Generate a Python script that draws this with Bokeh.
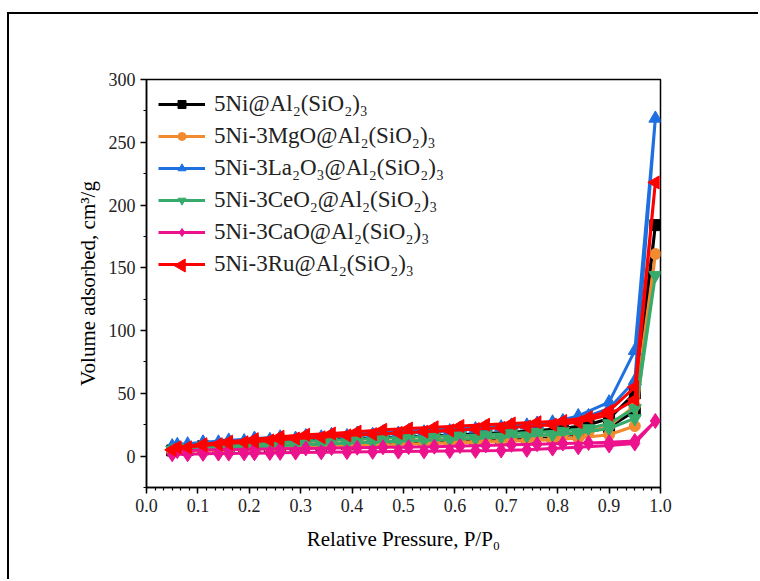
import math
from bokeh.plotting import figure
from bokeh.models import Range1d, FixedTicker, CustomJSTickFormatter
from bokeh.embed import file_html
from bokeh.resources import INLINE

# Relative pressure grids (adsorption up, desorption down)
P_ads = [0.05, 0.08, 0.11, 0.14, 0.16, 0.19, 0.21, 0.24, 0.26, 0.29, 0.34, 0.39,
         0.44, 0.49, 0.54, 0.59, 0.64, 0.69, 0.74, 0.79, 0.84, 0.90, 0.95, 0.99]
P_des = [0.95, 0.90, 0.86, 0.81, 0.76, 0.71, 0.66, 0.61, 0.56, 0.51, 0.46, 0.41,
         0.36, 0.31, 0.26, 0.21, 0.16, 0.11, 0.06]

labels = ["5Ni@Al₂(SiO₂)₃", "5Ni-3MgO@Al₂(SiO₂)₃", "5Ni-3La₂O₃@Al₂(SiO₂)₃",
          "5Ni-3CeO₂@Al₂(SiO₂)₃", "5Ni-3CaO@Al₂(SiO₂)₃", "5Ni-3Ru@Al₂(SiO₂)₃"]

ni_ads = [4.5, 5, 5.5, 6, 6.3, 6.7, 7, 7.5, 7.8, 8.3, 9, 9.7, 10.4, 11, 11.7, 12.4,
          13, 13.8, 14.6, 15.6, 17.5, 23, 36, 184]
ni_des = [50, 30, 25, 22, 20.5, 19, 18, 17, 16.2, 15.4, 14.6, 13.8, 13, 12, 11, 10, 9, 7.8, 6]

mgo_ads = [3.5, 4, 4.5, 5, 5.2, 5.5, 5.8, 6.2, 6.5, 6.9, 7.5, 8, 8.6, 9.2, 9.8, 10.4,
           11, 11.6, 12.3, 13, 14.5, 17, 24, 161]
mgo_des = [40, 24, 19, 17, 16, 15, 14.2, 13.5, 12.8, 12.2, 11.5, 10.8, 10.2, 9.5, 8.8, 8, 7.2, 6.3, 5]

la_ads = [8, 9.5, 10.5, 11, 11.5, 12, 12.5, 13, 13.5, 14, 15, 16, 17, 18, 19, 20,
          21.5, 23, 24.5, 27, 32, 43, 84, 269]
la_des = [60, 38, 32, 28, 26, 24.5, 23, 22, 21, 20, 19, 18, 17, 16, 15, 14, 12.5, 11, 9]

ce_ads = [5, 5.5, 6, 6.5, 6.8, 7.2, 7.5, 8, 8.3, 8.8, 9.5, 10.2, 11, 11.8, 12.5, 13.3,
          14, 15, 16, 17, 18.5, 22, 30, 144]
ce_des = [38, 26, 22, 20, 19, 18, 17, 16.3, 15.6, 15, 14.2, 13.4, 12.6, 11.8, 11, 10, 9, 8, 6.5]

ca_ads = [1.5, 1.5, 1.8, 2, 2, 2.2, 2.3, 2.5, 2.6, 2.8, 3, 3.2, 3.4, 3.6, 3.8, 4,
          4.2, 4.5, 5, 6, 7, 8.5, 10, 28]
ca_des = [12, 11, 10.5, 10, 9.5, 9, 8.5, 8, 7.5, 7.2, 7, 6.7, 6.4, 6.1, 5.8, 5.5, 5.2, 4.8, 4]

ru_ads = [5, 7, 8.5, 9.5, 10, 11, 11.5, 12.5, 13, 14, 15, 16.5, 17.5, 18.5, 19.5, 20.5,
          21.5, 22.5, 23.5, 25, 27, 33, 45, 218]
ru_des = [55, 36, 31, 28, 27, 26, 25, 24, 23, 22, 21, 19.5, 18, 17, 15.5, 13.5, 11.5, 9.5, 7]

x_ticks = [0.0, 0.1, 0.2, 0.3, 0.4, 0.5, 0.6, 0.7, 0.8, 0.9, 1.0]
y_ticks = [0, 50, 100, 150, 200, 250, 300]

series = [
    (labels[0], ni_ads, ni_des, "#000000", "square", 11, 0.0),
    (labels[1], mgo_ads, mgo_des, "#F28A30", "circle", 11, 0.0),
    (labels[2], la_ads, la_des, "#1E6FE0", "triangle", 13, 0.0),
    (labels[3], ce_ads, ce_des, "#37AB6B", "inverted_triangle", 13, 0.0),
    (labels[4], ca_ads, ca_des, "#EC118D", "diamond", 15, 0.0),
    (labels[5], ru_ads, ru_des, "#FF0000", "triangle", 13, math.pi / 2),
]

FONT = "Times New Roman"
FRAME_W, FRAME_H = 514, 408

p = figure(width=751, height=567, output_backend="svg", toolbar_location=None,
           x_range=Range1d(0, 1.0), y_range=Range1d(-25, 300),
           min_border_left=137, min_border_right=100, min_border_top=65,
           min_border_bottom=94)
p.margin = (12, 0, 0, 7)
p.styles = {"border-left": "2px solid black", "border-top": "2px solid black"}
# pixel-unit ranges used only to place the rotated legend key marker
p.extra_x_ranges = {"px": Range1d(0, FRAME_W)}
p.extra_y_ranges = {"px": Range1d(0, FRAME_H)}

p.xgrid.visible = False
p.ygrid.visible = False
p.outline_line_color = "black"
p.outline_line_width = 1.5
p.outline_line_alpha = 1.0

for lab, ads, des, col, mk, sz, ang in series:
    xs = P_ads + P_des
    ys = ads + des
    p.line(xs, ys, line_color=col, line_width=3, legend_label=lab)
    if ang == 0.0:
        p.scatter(x=xs, y=ys, marker=mk, size=sz, fill_color=col, line_color=col,
                  legend_label=lab)
    else:
        p.scatter(x=xs, y=ys, marker=mk, size=sz, angle=ang, angle_units="rad",
                  fill_color=col, line_color=col)
        # legend key marker (legend keys are never rotated by Bokeh)
        p.scatter(x=[35], y=[FRAME_H - 186], marker=mk, size=sz, angle=ang,
                  angle_units="rad", fill_color=col, line_color=col,
                  x_range_name="px", y_range_name="px")

p.xaxis.ticker = FixedTicker(ticks=x_ticks,
                             minor_ticks=[round(i / 60, 4) for i in range(0, 61)])
p.yaxis.ticker = FixedTicker(ticks=y_ticks, minor_ticks=list(range(-25, 301, 25)))
p.xaxis.formatter = CustomJSTickFormatter(code="return tick.toFixed(1);")

for ax in (p.xaxis, p.yaxis):
    ax.axis_line_color = "black"
    ax.axis_line_width = 1.5
    ax.major_tick_line_color = "black"
    ax.major_tick_line_width = 1.5
    ax.minor_tick_line_color = "black"
    ax.minor_tick_line_width = 1.2
    ax.major_tick_in = 0
    ax.major_tick_out = 6
    ax.minor_tick_in = 0
    ax.minor_tick_out = 3
    ax.major_label_text_font = FONT
    ax.major_label_text_font_size = "18px"
    ax.major_label_text_color = "#222222"
    ax.axis_label_text_font = FONT
    ax.axis_label_text_font_size = "21px"
    ax.axis_label_text_font_style = "normal"
    ax.axis_label_text_color = "black"

p.xaxis.axis_label = "Relative Pressure, P/P₀"
p.yaxis.axis_label = "Volume adsorbed, cm³/g"
p.xaxis.major_label_standoff = 5
p.yaxis.major_label_standoff = 5
p.xaxis.axis_label_standoff = 12
p.yaxis.axis_label_standoff = 6

leg = p.legend[0]
leg.location = "top_left"
leg.border_line_color = None
leg.background_fill_alpha = 0
leg.margin = 12
leg.padding = 8
leg.spacing = 6
leg.glyph_width = 47
leg.glyph_height = 20
leg.label_height = 20
leg.label_standoff = 9
leg.label_text_font = FONT
leg.label_text_font_size = "23px"
leg.label_text_color = "#222222"

open("out.html", "w").write(file_html(p, INLINE))
